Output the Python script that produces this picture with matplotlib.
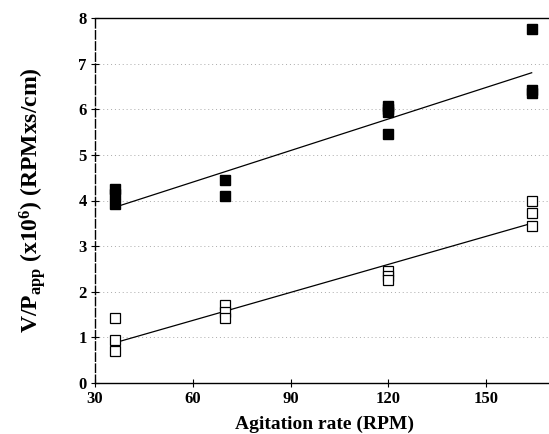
import matplotlib
matplotlib.use("Agg")
import matplotlib.pyplot as plt
import numpy as np

# Data
rpm_filled = [36, 36, 36, 70, 70, 120, 120, 120, 120, 164, 164, 164]
vp_filled = [4.25, 4.15, 3.92, 4.45, 4.10, 6.07, 6.0, 5.95, 5.45, 7.75, 6.42, 6.35]
rpm_open = [36, 36, 36, 70, 70, 70, 120, 120, 120, 164, 164, 164]
vp_open = [1.42, 0.95, 0.70, 1.70, 1.55, 1.42, 2.45, 2.35, 2.25, 3.98, 3.72, 3.45]
fit_x = [36, 164]
fit_filled = [3.85, 6.80]
fit_open = [0.88, 3.50]

xticks = [30, 60, 90, 120, 150]
yticks = [0, 1, 2, 3, 4, 5, 6, 7, 8]

plt.rcParams['font.family'] = ['Liberation Serif', 'DejaVu Serif']
plt.rcParams['mathtext.fontset'] = 'custom'
plt.rcParams['mathtext.rm'] = 'Liberation Serif:bold'
plt.rcParams['mathtext.bf'] = 'Liberation Serif:bold'
plt.rcParams['mathtext.it'] = 'Liberation Serif:bold'

fig = plt.figure(figsize=(5.49, 4.34), dpi=100)
ax = fig.add_axes([95/549, 1 - 383/434, 1 - 95/549 + 0.01, (383 - 18)/434])

for y in yticks[1:]:
    ax.axhline(y, color='#aaaaaa', lw=0.7, ls=(0, (1, 3)), zorder=0)

ax.plot(fit_x, fit_filled, color='black', lw=0.9, zorder=2)
ax.plot(fit_x, fit_open, color='black', lw=0.9, zorder=2)
ax.plot(rpm_filled, vp_filled, ls='none', marker='s', ms=6.5, mfc='black', mec='black', zorder=3)
ax.plot(rpm_open, vp_open, ls='none', marker='s', ms=6.5, mfc='white', mec='black', mew=0.9, zorder=3)

ax.set_xlim(30, 171)
ax.set_ylim(0, 8)
ax.set_xticks(xticks)
ax.set_yticks(yticks)
ax.spines['right'].set_visible(False)
ax.spines['left'].set_linestyle((0, (6, 2)))
for s in ['top', 'bottom', 'left']:
    ax.spines[s].set_linewidth(1.0)
ax.tick_params(direction='inout', length=6, width=0.8, labelsize=12, pad=3)
for lab in ax.get_xticklabels() + ax.get_yticklabels():
    lab.set_fontweight('bold')

ax.set_xlabel('Agitation rate (RPM)', fontsize=14, fontweight='bold', labelpad=6)
ax.set_ylabel(r'V/P$_{\mathregular{app}}$ (x10$^{6}$) (RPMxs/cm)', fontsize=17, fontweight='bold', labelpad=22)

fig.savefig('out.png', dpi=100)
